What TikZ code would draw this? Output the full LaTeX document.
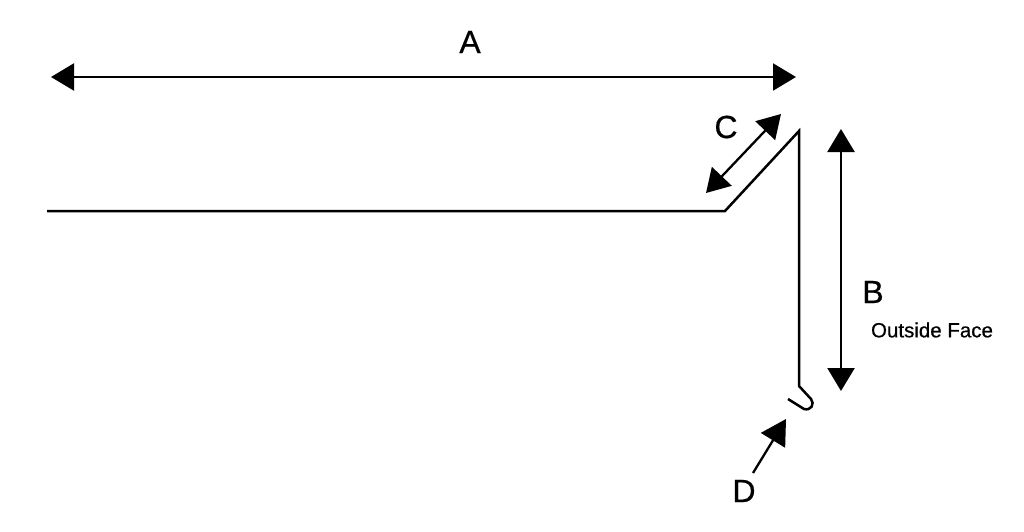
\documentclass[tikz,border=0pt]{standalone}
\usepackage{fontspec}
\setmainfont{Liberation Sans}
\newfontfamily\heavyfont[FakeBold=0.6]{Liberation Sans}
\usetikzlibrary{arrows.meta}
\begin{document}
\begin{tikzpicture}
	[x=1pt,y=-1pt,every node/.style={inner sep=0pt},
	dim/.style={line width=2.3pt,{Triangle[length=23pt,width=27pt]}-{Triangle[length=23pt,width=27pt]}},
	pointer/.style={line width=2.3pt,-{Triangle[length=25pt,width=28pt]}},
	profile/.style={line width=2.5pt,miter limit=20},
	letter/.style={font=\heavyfont\fontsize{32}{32}\selectfont},
	caption/.style={font=\heavyfont\fontsize{20.5}{24}\selectfont}]
	\useasboundingbox (0,0) rectangle (1024,532);
	\coordinate (a1) at (51,77);
	\coordinate (a2) at (796,77);
	\coordinate (b1) at (841,129);
	\coordinate (b2) at (841,391);
	\coordinate (c1) at (781,114);
	\coordinate (c2) at (706,193);
	\coordinate (d1) at (753,473);
	\coordinate (d2) at (786,419);

	\coordinate (p1) at (47,211);
	\coordinate (p2) at (725,211);
	\coordinate (p3) at (799,131);
	\coordinate (p4) at (799,386);
	\coordinate (p5) at (811,399);
	\coordinate (p6) at (788,399);

	\node[letter] (A) at (470,42) {A};
	\node[letter] (B) at (873,292) {B};
	\node[letter] (C) at (726,127) {C};
	\node[letter] (D) at (744,491) {D};
	\node[caption] (face) at (932,330) {Outside Face};

	\foreach \from/\to in {a1/a2,b1/b2,c1/c2}
	\draw[dim] (\from) -- (\to);
	\draw[pointer] (d1) -- (d2);
	\draw[profile] (p1) -- (p2) -- (p3) -- (p4) -- (p5) .. controls (815,404) and (811,411) .. (804,409) -- (p6);
\end{tikzpicture}
\end{document}
